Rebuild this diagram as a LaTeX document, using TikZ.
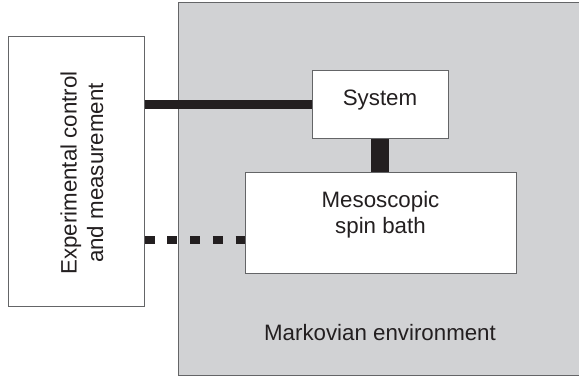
\documentclass[tikz,border=0pt]{standalone}
\usepackage{fontspec}
\setmainfont{Liberation Sans}
\usetikzlibrary{positioning}
\definecolor{envgray}{RGB}{209,210,212}
\definecolor{ink}{RGB}{35,31,32}
\definecolor{rim}{RGB}{100,101,103}
\tikzset{
    every picture/.style={
        x=1pt,y=-1pt,font=\fontsize{22.3}{26.5}\selectfont,
        box/.style={draw=rim,fill=white,line width=1pt,inner sep=0pt},
        txt/.style={inner sep=0pt,text=ink,align=center},
        link/.style={draw=ink,line width=9pt}
    }
}

\begin{document}
\begin{tikzpicture}
    \useasboundingbox (0,0) rectangle (579,379);
    \node[box,fill=envgray,minimum width=404,minimum height=373] (env)  at (380,189.5) {};
    \node[box,minimum width=136,minimum height=270]              (exp)  at (76,172)    {};
    \node[box,minimum width=136,minimum height=68]               (sys)  at (380,105)   {};
    \node[box,minimum width=271,minimum height=101]              (bath) at (380.5,223.5) {};
    \coordinate (dots) at ([yshift=-16.5pt]bath.west);
    % links to the experiment
    \draw[link] (exp.east |- sys.west) -- (sys.west);
    \draw[link,line width=8pt,dash pattern=on 10pt off 12.75pt] (exp.east |- dots) -- (dots);
    \draw[link,line width=18pt] (sys.south) -- (sys.south |- bath.north);
    % texts
    \node[txt,anchor=base]  (systext)  at (380,106)  {System};
    \node[txt]              (bathtext) at (380.5,214.5) {Mesoscopic\\spin bath};
    \node[txt,rotate=90]    (exptext)  at (82,173) {Experimental control\\and measurement};
    \node[txt,anchor=base]  (envtext)  at (380,341)  {Markovian environment};
\end{tikzpicture}
\end{document}
